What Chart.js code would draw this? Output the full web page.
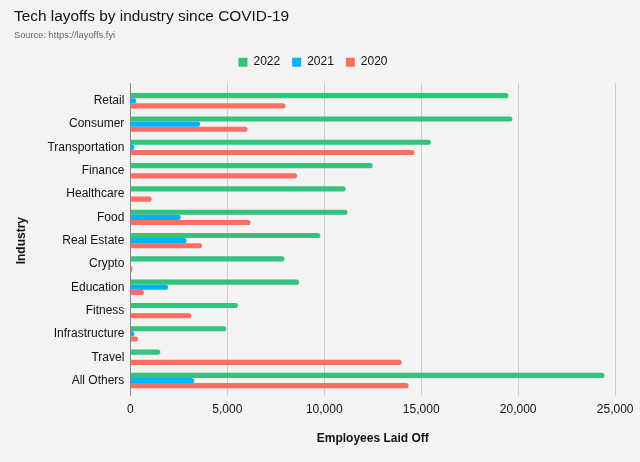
<!DOCTYPE html>
<html>
<head>
<meta charset="utf-8">
<script src="https://cdn.jsdelivr.net/npm/chart.js@4/dist/chart.umd.min.js"></script>
<style>
  html, body { margin: 0; padding: 0; background: #f3f3f3; }
  #wrap { width: 640px; height: 462px; }
</style>
</head>
<body>
<div id="wrap"><canvas id="layoffsChart"></canvas></div>
<script>
const industries = ['Retail', 'Consumer', 'Transportation', 'Finance', 'Healthcare', 'Food',
  'Real Estate', 'Crypto', 'Education', 'Fitness', 'Infrastructure', 'Travel', 'All Others']
const layoffs2022 = [19500, 19700, 15500, 12500, 11100, 11200, 9800, 7950, 8700, 5550, 4950, 1550, 24450]
const layoffs2021 = [300, 3600, 200, 0, 0, 2600, 2900, 0, 1950, 0, 200, 0, 3300]
const layoffs2020 = [8000, 6050, 14650, 8600, 1100, 6200, 3700, 100, 700, 3150, 400, 14000, 14350]
const xTicks = [0, 5000, 10000, 15000, 20000, 25000]

const FONT = 'Helvetica, Arial, "Liberation Sans", sans-serif'
const TEXT = '#111111'
const GRID = '#cccccc'
const AXIS = '#888888'

Chart.defaults.font.family = FONT
Chart.defaults.color = TEXT

const bar = (label, data, color) => ({
  label,
  data,
  backgroundColor: color,
  borderRadius: 3,
  borderSkipped: 'start',
  categoryPercentage: 0.66,
  barPercentage: 1.0
})

// grid at 0 doubles as the y axis line
const gridColor = (ctx) => (ctx.tick && ctx.tick.value === 0 ? AXIS : GRID)

// legend in the original sits a little left of centre
const legendShift = {
  id: 'legendShift',
  afterLayout(chart) {
    if (!chart.legend) return
    chart.legend.left -= 10
    chart.legend.right -= 10
  }
}

new Chart(document.getElementById('layoffsChart'), {
  type: 'bar',
  data: {
    labels: industries,
    datasets: [
      bar('2022', layoffs2022, '#33c37d'),
      bar('2021', layoffs2021, '#00b2fc'),
      bar('2020', layoffs2020, '#ff6e61')
    ]
  },
  plugins: [legendShift],
  options: {
    indexAxis: 'y',
    responsive: true,
    maintainAspectRatio: false,
    animation: false,
    layout: { padding: { left: 14, right: 8, top: 0, bottom: 12 } },
    plugins: {
      title: {
        display: true,
        text: 'Tech layoffs by industry since COVID-19',
        align: 'start',
        color: TEXT,
        font: { size: 15.4, weight: 'normal' },
        padding: { top: 8, bottom: 3 }
      },
      subtitle: {
        display: true,
        text: 'Source: https://layoffs.fyi',
        align: 'start',
        color: '#666666',
        font: { size: 9.3 },
        padding: { top: 0, bottom: 3.5 }
      },
      legend: {
        position: 'top',
        labels: {
          boxWidth: 9,
          boxHeight: 9,
          padding: 12,
          color: TEXT,
          font: { size: 12 }
        }
      },
      tooltip: { enabled: false }
    },
    scales: {
      x: {
        min: 0,
        max: 25000,
        afterBuildTicks: (axis) => { axis.ticks = xTicks.map(v => ({ value: v })) },
        grid: { color: gridColor, tickLength: 3.5, drawTicks: true },
        border: { display: false },
        ticks: {
          color: TEXT,
          font: { size: 12 },
          padding: 6.5,
          callback: (v) => Number(v).toLocaleString('en-US')
        },
        title: {
          display: true,
          text: 'Employees Laid Off',
          color: TEXT,
          font: { size: 12, weight: 'bold' },
          padding: { top: 8.5, bottom: 4 }
        }
      },
      // top copy of the x axis: only the short grid stubs above the plot
      xTop: {
        position: 'top',
        axis: 'x',
        min: 0,
        max: 25000,
        afterBuildTicks: (axis) => { axis.ticks = xTicks.map(v => ({ value: v })) },
        afterFit: (axis) => { axis.height = 11 },
        grid: { color: gridColor, tickLength: 6, drawOnChartArea: false },
        border: { display: false },
        ticks: { display: false }
      },
      y: {
        grid: { display: false, drawTicks: false },
        border: { display: true, color: AXIS, width: 1 },
        ticks: { color: TEXT, font: { size: 12 }, padding: 6 },
        title: {
          display: true,
          text: 'Industry',
          color: TEXT,
          font: { size: 12, weight: 'bold' },
          padding: { top: 0, bottom: 13 }
        }
      }
    }
  }
})
</script>
</body>
</html>
